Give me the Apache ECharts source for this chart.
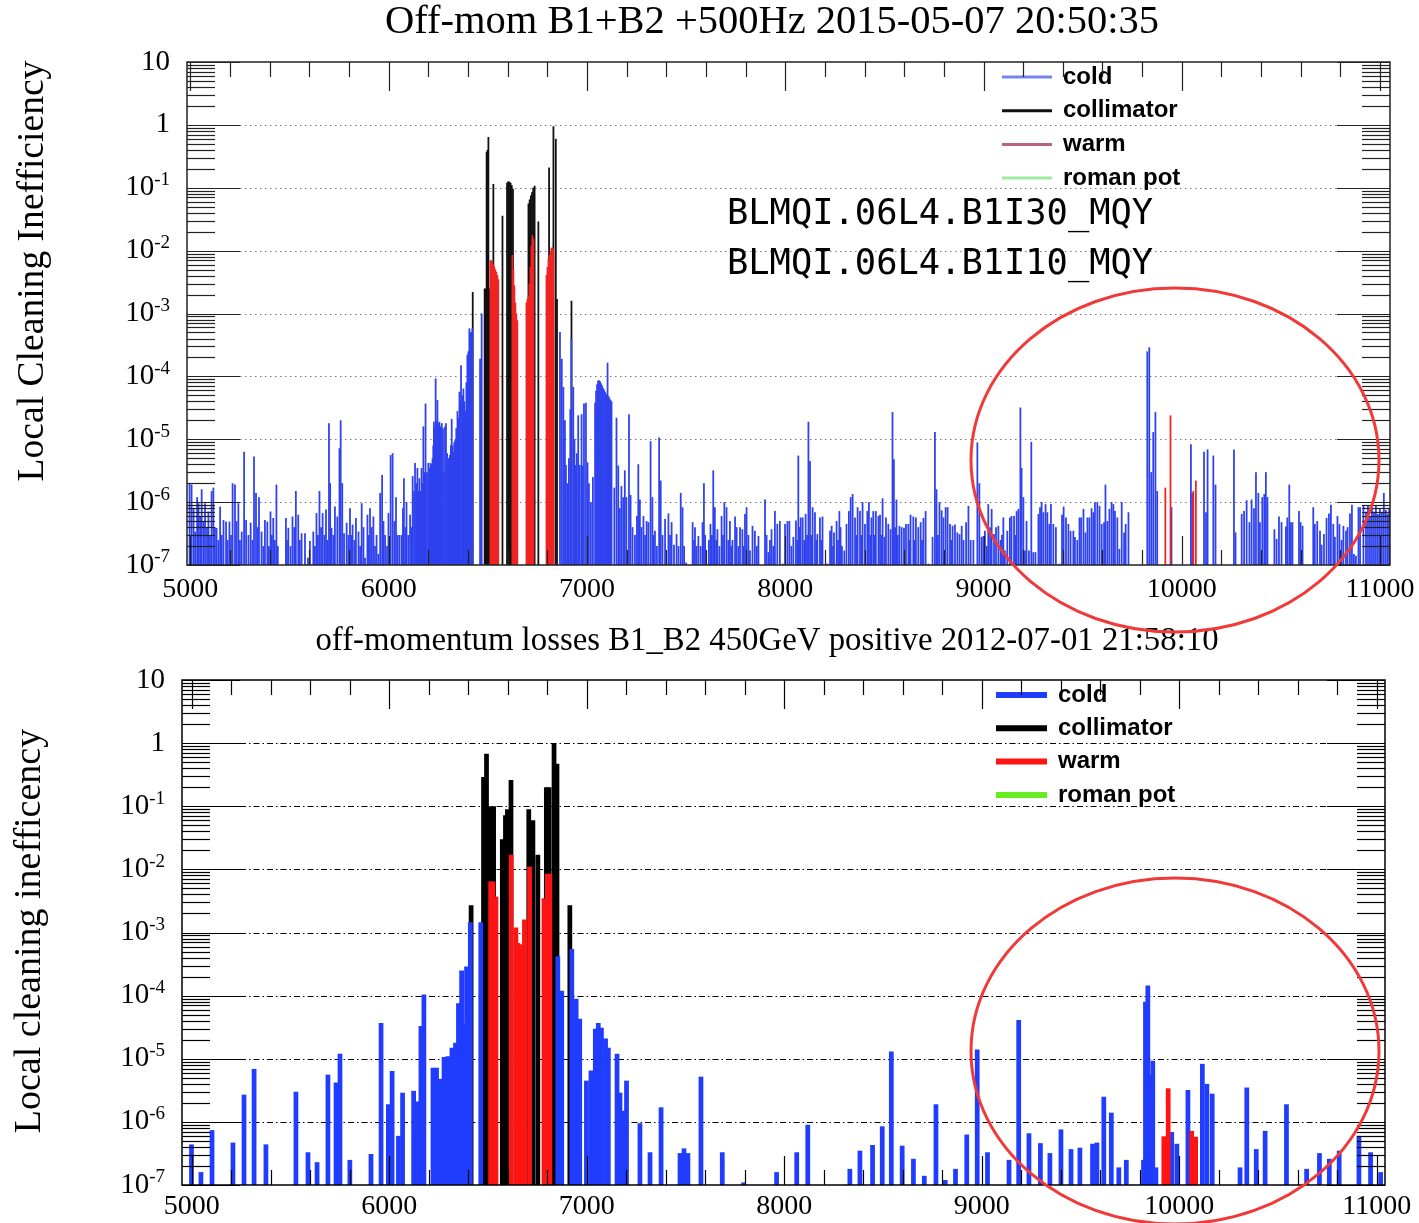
<!DOCTYPE html>
<html>
<head>
<meta charset="utf-8">
<script src="https://cdn.jsdelivr.net/npm/echarts/dist/echarts.min.js"></script>
<style>
  html, body { margin: 0; padding: 0; background: #fff; }
  #chart { width: 1419px; height: 1223px; }
</style>
</head>
<body>
<div id="chart"></div>
<script>
// ---------------- titles and labels ----------------
const titleTop = 'Off-mom B1+B2 +500Hz 2015-05-07 20:50:35';
const titleBottom = 'off-momentum losses B1_B2 450GeV positive 2012-07-01 21:58:10';
const yNameTop = 'Local Cleaning Inefficiency';
const yNameBottom = 'Local cleaning inefficency';
const monitorNames = ['BLMQI.06L4.B1I30_MQY', 'BLMQI.06L4.B1I10_MQY'];
const categories = ['cold', 'collimator', 'warm', 'roman pot'];
const xLabelValues = [5000, 6000, 7000, 8000, 9000, 10000, 11000];

// ---------------- 2015 loss map: [s (m), local inefficiency] ----------------
const topCold = [
[4996,2.0e-6],[5006,1.9e-6],[5016,8e-7],[5024,3.4e-7],[5034,1.2e-6],[5041,9.6e-7],[5049,6e-7],[5057,1.6e-6],[5066,5e-7],[5074,9.6e-7],[5084,4e-7],[5091,7.1e-7],[5099,3e-7],[5107,1.5e-6],[5116,1.7e-6],[5124,4e-7],[5132,3.9e-7],[5141,2.5e-7],[5150,8.5e-7],[5158,3e-7],[5167,5.2e-7],[5180,4.9e-7],[5188,2.5e-7],[5197,4.9e-7],[5205,3e-7],[5213,2.0e-6],[5225,1.9e-6],[5233,5e-7],[5242,9.6e-7],[5250,2.5e-7],[5259,3.4e-7],[5271,6.3e-6],[5281,5.2e-7],[5293,3.0e-7],[5304,4.7e-7],[5313,2.5e-7],[5321,5.3e-6],[5331,1.4e-6],[5339,4e-7],[5346,1.2e-6],[5359,3.4e-7],[5368,2e-7],[5376,5.2e-7],[5388,4.9e-7],[5396,2e-7],[5404,7.1e-7],[5411,3e-7],[5418,5.6e-7],[5426,2.5e-7],[5434,1.9e-6],[5441,2e-7],
[5482,5.6e-7],[5487,2.5e-7],[5494,3.9e-7],[5505,2e-7],[5515,5.9e-7],[5524,4e-7],[5532,1.5e-6],[5544,6.3e-7],[5552,2.5e-7],[5561,3.2e-7],[5578,3.2e-7],[5593,1.3e-7],[5603,2.4e-7],[5620,3.4e-7],[5628,2e-7],[5636,6.7e-7],[5643,3e-7],[5651,1.5e-6],[5659,4e-7],[5667,6.7e-7],[5676,3e-7],[5684,7.6e-7],[5691,2.5e-7],[5699,1.8e-5],[5705,2e-6],[5712,3.9e-7],[5721,3e-7],[5729,8.5e-7],[5741,5.9e-7],[5752,7.2e-6],[5758,2.0e-5],[5766,2e-6],[5775,3.2e-7],[5788,4.7e-7],[5797,3e-7],[5805,8e-7],[5812,3e-7],[5818,4.4e-7],[5827,2.5e-7],[5835,5.6e-7],[5848,3.4e-7],[5856,2e-7],[5864,9.6e-7],[5873,4e-7],[5881,1.3e-7],[5893,6.3e-7],[5900,3e-7],[5906,8e-7],[5915,4e-7],[5923,5.9e-7],[5931,2e-7],[5939,3.0e-7],[5948,1.5e-7],[5957,1.4e-6],[5967,2.7e-6],[5974,5e-7],[5982,3.0e-7],[5992,2e-7],[5999,6.7e-7],
[6010,5.6e-6],[6020,6e-6],[6029,5e-7],[6037,1.2e-6],[6045,3e-7],[6054,3.0e-7],[6065,3.0e-7],[6072,8e-7],[6077,2.4e-6],[6084,4e-7],[6090,1e-6],[6099,3e-7],[6108,6.3e-7],[6115,4e-7],[6121,2.6e-6],[6128,1.5e-6],[6133,4.2e-6],[6139,2e-6],[6145,3.5e-6],[6150,1.5e-6],[6155,2.4e-6],[6161,1.5e-6],[6166,3.5e-6],[6171,2e-6],[6175,1.6e-5],[6180,3e-6],[6186,3.7e-5],[6193,3e-6],[6200,4.2e-6],[6206,3.5e-6],[6211,4.2e-6],[6216,4e-6],[6221,5e-6],[6225,8e-6],[6228,1.9e-5],[6233,1.5e-5],[6237,9.3e-5],[6241,2e-5],[6246,4.2e-5],[6251,1.8e-5],[6256,1.9e-5],[6262,1.6e-5],[6268,1.8e-5],[6274,1.5e-5],[6279,3.1e-6],[6284,1.6e-5],[6289,1.8e-5],[6295,6e-6],[6301,5e-6],[6305,5e-6],[6309,5.6e-6],[6314,8e-6],[6318,2.1e-5],[6322,8e-6],[6326,6.3e-6],[6331,9e-6],[6336,1e-5],[6341,1.5e-5],[6347,2.8e-5],[6352,2.2e-5],[6357,5.7e-5],[6361,4e-5],[6365,1.5e-4],[6371,5e-5],[6377,6.4e-5],[6382,4e-5],[6387,2.8e-5],[6392,8e-5],[6397,2.2e-4],[6402,2.5e-4],[6407,5.8e-4],[6412,5e-4],[6417,5.1e-4],[6422,5.8e-4],
[6461,1.9e-4],[6469,1e-3],
[6864,5.1e-4],[6873,1.9e-4],[6881,6.8e-5],[6889,2e-5],[6894,3.9e-6],[6901,2e-6],[6909,5e-6],[6916,3e-5],[6922,4e-4],[6931,6.8e-5],[6937,1e-5],[6942,3.9e-6],[6949,6e-6],[6956,2.4e-5],[6964,3.9e-6],[6973,2.5e-5],[6978,3.8e-6],[6985,3.7e-5],[6995,3.8e-5],[7003,4.3e-6],[7010,2e-6],[7020,1e-6],[7030,2.5e-6],
[7041,3.8e-5],[7046,5.9e-5],[7051,7.5e-5],[7056,8.5e-5],[7061,8.7e-5],[7066,8.4e-5],[7071,7.8e-5],[7076,7.2e-5],[7081,6.6e-5],[7086,6.2e-5],[7091,5.7e-5],[7096,5.3e-5],[7101,5.1e-5],[7104,1.65e-4],[7109,4.9e-5],[7114,4.5e-5],[7119,4.2e-5],[7124,4e-5],
[7138,1.7e-6],[7149,2.2e-5],[7158,3.8e-6],[7166,8e-7],[7174,1.8e-6],[7183,1.2e-6],[7191,3.2e-6],[7199,1.2e-6],[7212,2.5e-5],[7220,1.3e-6],[7230,4e-7],[7242,3e-7],[7252,6e-7],[7259,4e-6],[7267,1.1e-6],[7275,4e-7],[7285,6e-7],[7293,3e-7],[7301,5e-7],[7310,4.8e-7],[7321,9.3e-6],[7330,1.2e-6],[7336,3e-7],[7343,3.5e-7],[7353,2e-7],[7364,1.07e-5],[7372,2.2e-6],[7381,3e-7],[7394,5.4e-7],[7411,6.6e-7],[7419,3e-7],[7427,4.8e-7],[7439,2.1e-7],[7452,3.1e-7],[7462,2e-7],[7473,1.4e-6],[7482,8.3e-7],[7490,2e-7],[7500,1.1e-7],
[7533,4.8e-7],[7540,2.5e-7],[7545,4e-7],[7553,2e-7],[7562,2.9e-7],[7573,2e-7],[7583,4.8e-7],[7590,2e-6],[7596,3e-7],[7615,2.5e-7],[7623,4.5e-7],[7630,3e-7],[7637,3.2e-6],[7645,8.3e-7],[7652,2.5e-7],[7658,3.7e-7],[7668,2e-7],[7679,6e-7],[7686,3e-7],[7693,1e-6],[7704,8.3e-7],[7713,2.5e-7],[7721,5e-7],[7728,2e-7],[7734,2.5e-7],[7747,5.9e-7],[7755,4e-7],[7764,2e-7],[7772,4e-7],[7784,3.7e-7],[7790,2e-7],[7797,6.5e-7],[7805,8.3e-7],[7814,3e-7],[7822,1.7e-7],[7835,4.2e-7],[7847,3.5e-7],[7857,2e-7],[7865,2.9e-7],[7898,1.1e-6],[7906,3e-7],[7915,1.6e-7],[7923,2.5e-7],[7931,3.7e-7],[7940,2e-7],[7948,7.2e-7],[7960,4.5e-7],[7973,5e-7],[7987,1.05e-7],[7999,4.5e-7],
[8011,5e-7],[8021,5e-7],[8031,2e-7],[8041,2.8e-7],[8054,5.1e-7],[8061,2.5e-7],[8066,5.5e-6],[8071,4e-7],[8078,5.7e-7],[8088,5.7e-7],[8096,2.5e-7],[8103,6.5e-7],[8110,3e-7],[8117,1.9e-5],[8125,4.5e-6],[8132,3e-7],[8138,8.3e-7],[8150,6.9e-7],[8157,2.5e-7],[8162,3.1e-7],[8175,5.7e-7],[8182,2.5e-7],[8188,5.9e-7],[8213,1.05e-7],[8226,3.5e-7],[8234,4.2e-7],[8241,2e-7],[8246,3.3e-7],[8259,5e-7],[8266,2.5e-7],[8273,7.2e-7],[8279,4e-7],[8286,2e-7],[8298,1.7e-7],[8309,4.5e-7],[8321,7.2e-7],[8330,1.2e-6],[8340,1.35e-6],[8352,5.7e-7],[8359,3e-7],[8365,8.3e-7],[8377,7.2e-7],[8384,3e-7],[8390,1e-6],[8402,4.5e-7],[8414,7.2e-7],[8422,1e-6],[8429,3e-7],[8435,5.7e-7],[8444,7.2e-7],[8450,3e-7],[8457,7.2e-7],[8470,6e-7],[8478,6.3e-7],[8485,3e-7],[8491,1.15e-6],[8500,2.8e-7],[8508,5.7e-7],[8520,4.5e-7],[8531,3.7e-7],[8541,2.7e-5],[8548,4.8e-6],[8554,4e-7],[8561,1.1e-6],[8568,3e-7],[8576,4.2e-7],[8587,4e-7],[8599,3.9e-7],
[8609,4.5e-7],[8621,4.5e-7],[8627,2.5e-7],[8632,6.3e-7],[8646,5.9e-7],[8652,2.5e-7],[8659,5.7e-7],[8671,4e-7],[8683,4.8e-7],[8690,2.5e-7],[8697,5.6e-7],[8708,7.2e-7],[8722,1.05e-7],[8743,2.8e-7],[8755,1.3e-5],[8763,1.6e-6],[8770,3e-7],[8778,1e-6],[8789,7.4e-7],[8798,5.7e-7],[8809,8.3e-7],[8819,8.3e-7],[8831,4.5e-7],[8838,2.5e-7],[8844,4.2e-7],[8856,4.4e-7],[8868,3.3e-7],[8879,3.1e-7],[8890,4.2e-7],[8899,2.5e-7],[8912,4.8e-7],[8924,8.7e-7],[8935,2.5e-7],[8949,2.5e-7],[8969,8.9e-6],[8979,2e-6],[8990,2.8e-7],[8999,2.9e-7],
[9007,3.5e-7],[9017,2e-7],[9024,9.3e-7],[9033,4e-7],[9041,7.8e-7],[9053,3.1e-7],[9063,4e-7],[9075,4.2e-7],[9086,2.5e-7],[9093,3e-7],[9100,5.7e-7],[9108,1.7e-7],[9120,3.5e-7],[9133,5.7e-7],[9141,6e-7],[9154,6e-7],[9161,3e-7],[9167,7.2e-7],[9176,7.8e-7],[9186,3.2e-5],[9192,3.5e-6],[9201,1.2e-6],[9209,1.7e-7],[9217,5e-7],[9229,1.7e-7],[9241,9.1e-6],[9251,1.6e-7],[9262,1.6e-7],[9277,6.5e-7],[9285,8.3e-7],[9293,1e-6],[9302,6.9e-7],[9313,9.3e-7],[9322,6.9e-7],[9332,4.5e-7],[9340,9.3e-7],[9352,4.5e-7],[9365,4e-7],[9383,1.05e-7],[9396,6.3e-7],[9404,8.5e-7],[9416,5.7e-7],[9428,4.5e-7],[9439,3.5e-7],[9453,3.5e-7],[9461,2.8e-7],[9473,2.5e-7],[9484,5.7e-7],[9492,5.7e-7],[9504,7.8e-7],[9514,3.3e-7],[9524,5.7e-7],[9534,5.7e-7],[9545,8e-7],[9554,6.9e-7],[9562,1e-6],[9574,1e-6],[9585,8.7e-7],[9596,4.5e-7],[9608,4.8e-7],[9615,1.9e-6],[9625,5e-7],[9635,7.8e-7],[9646,1e-6],[9655,9.3e-7],[9663,7.2e-7],[9675,5.7e-7],[9685,1.8e-7],[9697,1e-6],[9709,3.3e-7],[9717,4.5e-7],[9731,6.9e-7],
[9826,2.5e-4],[9836,2.9e-4],[9846,3e-6],[9856,1.3e-5],[9867,2.7e-5],[9876,1.5e-6],[9948,8.3e-7],[10046,8.3e-6],[10053,1.4e-6],[10112,6.3e-6],[10122,6.9e-7],[10130,6.9e-6],[10159,5.5e-6],[10170,1.9e-6],[10263,6.9e-6],[10271,3.3e-7],
[10302,6.5e-7],[10314,7.2e-7],[10327,1.07e-6],[10341,4.8e-7],[10352,1.1e-6],[10364,8e-7],[10374,3e-6],[10386,1.4e-6],[10394,4.8e-7],[10406,1.2e-6],[10416,1.35e-6],[10424,3e-6],[10432,1.2e-6],[10467,3.7e-7],[10478,2.6e-7],[10490,5.9e-7],[10503,4.8e-7],[10525,4.1e-7],[10532,5.7e-7],[10542,1.9e-6],[10550,4.8e-7],[10558,4.8e-7],[10591,7.2e-7],[10599,4.8e-7],[10609,4.2e-7],
[10663,8.3e-7],[10671,4.5e-7],[10683,5e-7],[10697,3.5e-7],[10705,2.1e-7],[10717,3.1e-7],[10730,5.6e-7],[10742,6.6e-7],[10752,9.1e-7],[10764,4.5e-7],[10772,2.8e-7],[10785,6e-7],[10795,4.5e-7],[10806,2.5e-7],[10815,4.2e-7],[10828,3.5e-7],[10836,4e-7],[10848,6.6e-7],[10858,9.1e-7],[10868,1.5e-7],[10878,1.4e-7],[10891,8.3e-7],[10899,8.3e-7],[10916,8.7e-7],[10929,7e-7],[10939,9e-7],[10949,6e-7],[10959,8e-7],[10969,7e-7],[10979,9e-7],[10989,6.5e-7],[10999,8e-7],[11009,7e-7],[11019,1.4e-6],[11029,7.5e-7],[11039,6.5e-7],[11046,8e-7]
];
const topCollimator = [
[6424,2.2e-3],[6484,2.5e-3],[6489,2.5e-3],[6494,0.37],[6498,0.4],[6503,0.64],[6508,2.5e-3],[6528,0.115],[6574,0.036],
[6597,0.12],[6603,0.127],[6609,0.125],[6615,0.12],[6621,0.11],[6627,0.096],
[6705,0.056],[6711,0.065],[6717,0.075],[6723,0.085],[6729,0.1],[6736,0.108],[6755,0.029],
[6809,0.21],[6831,0.95],[6843,0.6],[6849,1.7e-3],[6922,1.6e-3]
];
const topWarm = [
[6513,7e-3],[6518,7e-3],[6523,6.6e-3],[6528,6e-3],[6533,5.6e-3],[6538,5e-3],[6543,4.6e-3],[6548,4.1e-3],[6553,3.5e-3],
[6624,8.5e-3],[6629,5e-3],[6634,2.8e-3],[6639,1.5e-3],[6644,1e-3],[6649,7.8e-4],
[6695,1.5e-3],[6700,1.7e-3],[6705,1.9e-3],[6710,3e-3],[6715,5.5e-3],[6720,1.2e-2],[6725,1.75e-2],[6730,1.55e-2],
[6796,4.1e-3],[6801,5.5e-3],[6806,7.5e-3],[6811,8.5e-3],[6816,9.5e-3],[6821,1.1e-2],[6826,1.14e-2],[6831,1.05e-2],
[9917,1.7e-6],[9943,2.4e-5],[10058,1.5e-6],[10071,2.2e-6]
];
const topRomanPot = [];

// ---------------- 2012 loss map ----------------
const bottomCold = [
[4998,4.4e-7],[5046,1.6e-7],[5102,7.4e-7],[5208,4.7e-7],[5264,2.7e-6],[5315,6.9e-6],[5375,4.4e-7],[5527,3e-6],[5588,3.3e-7],[5634,2.3e-7],[5689,5.6e-6],[5730,4.2e-6],[5750,1.2e-5],[5800,2.5e-7],[5907,3.1e-7],[5958,3.7e-5],[5995,1.9e-6],[6014,6.4e-6],[6046,6e-7],[6067,2.9e-6],[6123,3.1e-6],[6145,2.1e-6],[6160,3.3e-5],[6175,1.04e-4],
[6221,7.2e-6],[6239,7.2e-6],[6256,4.8e-6],[6277,1.07e-5],[6297,1.1e-5],[6317,1.5e-5],[6335,1.8e-5],[6350,7.6e-5],[6366,2.5e-4],[6381,3.6e-5],[6391,2.9e-4],[6410,1.45e-3],[6463,1.45e-3],
[6853,4.2e-4],[6873,1.2e-4],[6924,5.5e-4],[6946,8.9e-5],[6964,4.3e-5],[6998,4.5e-6],[7021,6.5e-6],[7043,3e-5],[7058,3.7e-5],[7074,3.1e-5],[7095,2.1e-5],[7109,1.5e-5],[7153,1.2e-5],[7168,2.9e-6],[7185,1.5e-6],[7201,4.5e-6],[7269,9.5e-7],[7320,3.3e-7],[7376,1.7e-6],[7472,3.2e-7],[7492,3.8e-7],[7512,3.2e-7],[7578,5.2e-6],[7686,3.3e-7],[7794,1.1e-7],[7961,1.6e-7],
[8063,3.3e-7],[8119,9e-7],[8332,1.8e-7],[8383,3.5e-7],[8447,4.3e-7],[8496,8.5e-7],[8542,1.3e-5],[8597,4.2e-7],[8654,2.6e-7],[8709,1.4e-7],[8768,1.9e-6],[8815,1.2e-7],[8867,1.8e-7],[8924,6.3e-7],[8977,1.4e-5],
[9029,3.3e-7],[9138,2.5e-7],[9187,4.1e-5],[9239,6.6e-7],[9297,4.6e-7],[9345,3.2e-7],[9401,7.6e-7],[9452,3.7e-7],[9497,3.9e-7],[9561,4.5e-7],[9583,4.7e-7],[9618,2.5e-6],[9656,1.4e-6],[9694,1.9e-7],[9732,2.5e-7],
[9819,2.5e-7],[9829,8e-5],[9841,1.45e-4],[9854,5.6e-6],[9866,9.3e-6],[9882,1.9e-7],[9962,6.9e-7],[9988,4.5e-7],[10044,3.2e-6],[10117,8.3e-6],[10140,4e-6],[10167,2.8e-6],
[10308,1.9e-7],[10342,3.5e-6],[10390,3.7e-7],[10435,7.2e-7],[10543,1.9e-6],[10645,1.8e-7],[10710,3.2e-7],[10760,2.6e-7],[10810,3.5e-7],[10910,6e-7],[10969,3.3e-7],[11020,1.6e-7]
];
const bottomCollimator = [
[6414,2.7e-3],[6477,0.29],[6492,0.68],[6512,0.1],[6528,0.1],[6572,0.03],[6588,0.072],[6598,0.09],[6616,0.26],
[6706,0.09],[6727,0.06],[6752,0.017],[6795,0.2],[6809,0.2],[6834,1.0],[6849,0.47],[6914,2.7e-3]
];
const bottomWarm = [
[6513,6.4e-3],[6525,6.4e-3],[6540,3.7e-3],[6617,0.017],[6641,1.2e-3],[6651,6.8e-4],[6663,5.5e-4],[6674,6.5e-4],[6684,1.6e-3],[6710,0.011],
[6783,3.5e-3],[6800,8.5e-3],[6813,8.5e-3],
[9922,5.9e-7],[9944,3.4e-6],[10063,7.2e-7],[10083,5.8e-7]
];
const bottomRomanPot = [];

// ---------------- axes ----------------
const Y_MIN = 1e-7, Y_MAX = 10;
const X_TICK_FIRST = 5000, X_TICK_LAST = 11000, X_TICK_STEP = 200, X_MAJOR_STEP = 1000;

const SERIF = "'Liberation Serif', 'Times New Roman', serif";
const SANS = "'Liberation Sans', Arial, Helvetica, sans-serif";
const MONO = "'DejaVu Sans Mono', monospace";

// decade and 2..9 sub-decade positions of the logarithmic axis
const yTicks = [];
for (let e = Math.round(Math.log10(Y_MIN)); e < Math.round(Math.log10(Y_MAX)); e++) {
  for (let m = 1; m <= 9; m++) yTicks.push({ v: m * Math.pow(10, e), major: m === 1 });
}
yTicks.push({ v: Y_MAX, major: true });
const xTicks = [];
for (let x = X_TICK_FIRST; x <= X_TICK_LAST; x += X_TICK_STEP) xTicks.push({ v: x, major: x % X_MAJOR_STEP === 0 });

function barRenderer(binWidth) {
  return function (params, api) {
    const x = api.value(0), v = api.value(1);
    const l = api.coord([x - binWidth / 2, v]);
    const r = api.coord([x + binWidth / 2, v]);
    const base = api.coord([x, Y_MIN]);
    return {
      type: 'rect',
      shape: { x: l[0], y: l[1], width: Math.max(r[0] - l[0], 1), height: base[1] - l[1] },
      style: { fill: api.visual('color') }
    };
  };
}

function gridLineRenderer(cfg) {
  return function (params, api) {
    const cs = params.coordSys;
    const kids = [];
    yTicks.forEach(function (t) {
      if (!t.major || t.v <= Y_MIN * 1.0001 || t.v >= Y_MAX * 0.9999) return;
      const y = Math.round(api.coord([X_TICK_FIRST, t.v])[1]) + 0.5;
      kids.push({ type: 'line', shape: { x1: cs.x + cfg.majorY, y1: y, x2: cs.x + cs.width - cfg.majorY, y2: y },
        style: { stroke: cfg.gridColor, lineWidth: cfg.gridWidth, lineDash: cfg.gridDash } });
    });
    return { type: 'group', children: kids };
  };
}

function frameRenderer(cfg) {
  return function (params, api) {
    const cs = params.coordSys;
    const x0 = cs.x, x1 = cs.x + cs.width, y0 = cs.y, y1 = cs.y + cs.height;
    const st = { stroke: cfg.tickColor, lineWidth: cfg.tickWidth };
    const kids = [];
    const seg = function (a, b, c, d) { kids.push({ type: 'line', shape: { x1: a, y1: b, x2: c, y2: d }, style: st }); };
    yTicks.forEach(function (t) {
      const y = Math.round(api.coord([X_TICK_FIRST, t.v])[1]) + 0.5;
      const len = t.major ? cfg.majorY : cfg.minorY;
      seg(x0, y, x0 + len, y);
      seg(x1 - len, y, x1, y);
    });
    xTicks.forEach(function (t) {
      const x = Math.round(api.coord([t.v, Y_MIN])[0]) + 0.5;
      const len = t.major ? cfg.majorX : cfg.minorX;
      seg(x, y1, x, y1 - len);
      seg(x, y0, x, y0 + len);
    });
    kids.push({ type: 'rect', shape: { x: x0, y: y0, width: x1 - x0, height: y1 - y0 },
      style: { fill: 'none', stroke: cfg.tickColor, lineWidth: cfg.frameWidth } });
    return { type: 'group', children: kids };
  };
}

function yLabelFormatter(v) {
  const e = Math.round(Math.log10(v));
  if (e === 1) return '{b|10}';
  if (e === 0) return '{b|1}';
  return '{b|10}{s|' + e + '}';
}
const yRich = {
  b: { fontSize: 29, fontFamily: SERIF, color: '#000', lineHeight: 34 },
  s: { fontSize: 19, fontFamily: SERIF, color: '#000', lineHeight: 34, verticalAlign: 'top' }
};

function xAxisCfg(gridIndex, min, max, margin) {
  return {
    type: 'value', gridIndex: gridIndex, min: min, max: max,
    axisLine: { show: false }, axisTick: { show: false }, splitLine: { show: false },
    axisLabel: { customValues: xLabelValues, formatter: function (v) { return String(Math.round(v)); },
      margin: margin, fontSize: 28, fontFamily: SERIF, color: '#000', showMinLabel: true, showMaxLabel: true }
  };
}
function yAxisCfg(gridIndex) {
  return {
    type: 'log', logBase: 10, gridIndex: gridIndex, min: Y_MIN, max: Y_MAX, splitNumber: 8,
    axisLine: { show: false }, axisTick: { show: false }, splitLine: { show: false },
    axisLabel: { formatter: yLabelFormatter, rich: yRich, margin: 17, showMinLabel: true, showMaxLabel: true }
  };
}

function bars(name, data, gi, binWidth, color, z) {
  return { type: 'custom', name: name, data: data, xAxisIndex: gi, yAxisIndex: gi, encode: { x: 0, y: 1 },
    renderItem: barRenderer(binWidth), itemStyle: { color: color }, z: z, clip: true, silent: true };
}
function decor(gi, renderer, z) {
  return { type: 'custom', data: [[X_TICK_FIRST, 1]], xAxisIndex: gi, yAxisIndex: gi, encode: { x: 0, y: 1 },
    renderItem: renderer, z: z, silent: true, clip: false };
}

const topStyle = { majorY: 53, minorY: 28, majorX: 29, minorX: 15, tickColor: '#222', tickWidth: 1.2, frameWidth: 1.5,
  gridColor: '#7a7a7a', gridWidth: 1.2, gridDash: [1.5, 3.5] };
const bottomStyle = { majorY: 58, minorY: 28, majorX: 29, minorX: 15, tickColor: '#000', tickWidth: 1.2, frameWidth: 1.5,
  gridColor: '#000', gridWidth: 1, gridDash: [6, 3, 1.5, 3] };

const legendText = { fontFamily: SANS, fontWeight: 'bold', fontSize: 24, lineHeight: 26, color: '#000', padding: [0, 0, 0, 6] };

const option = {
  animation: false,
  backgroundColor: '#fff',
  grid: [
    { left: 187, top: 62, width: 1203, height: 503, containLabel: false, outerBoundsMode: 'none' },
    { left: 182, top: 680, width: 1203, height: 505, containLabel: false, outerBoundsMode: 'none' }
  ],
  xAxis: [xAxisCfg(0, 4983, 11050, 11), xAxisCfg(1, 4950, 11042, 8)],
  yAxis: [yAxisCfg(0), yAxisCfg(1)],
  legend: [
    { orient: 'vertical', left: 1002, top: 64, padding: 0, itemWidth: 50, itemHeight: 3, itemGap: 7.7, icon: 'rect', selectedMode: false,
      textStyle: legendText,
      data: [
        { name: categories[0], itemStyle: { color: '#7585ef' } },
        { name: categories[1], itemStyle: { color: '#111' } },
        { name: categories[2], itemStyle: { color: '#b5637f' } },
        { name: categories[3], itemStyle: { color: '#a0eaa0' } }
      ] },
    { orient: 'vertical', left: 996, top: 682, padding: 0, itemWidth: 51, itemHeight: 6, itemGap: 7.3, icon: 'rect', selectedMode: false,
      textStyle: legendText,
      data: [
        { name: categories[0], itemStyle: { color: '#1f3cff' } },
        { name: categories[1], itemStyle: { color: '#000' } },
        { name: categories[2], itemStyle: { color: '#ff1414' } },
        { name: categories[3], itemStyle: { color: '#66ee22' } }
      ] }
  ],
  series: [
    decor(0, gridLineRenderer(topStyle), 1),
    bars(categories[1], topCollimator, 0, 9, '#111', 2),
    bars(categories[0], topCold, 0, 9, '#2f42ee', 3),
    bars(categories[2], topWarm, 0, 9, '#f02424', 4),
    bars(categories[3], topRomanPot, 0, 9, '#a0eaa0', 4),
    decor(0, frameRenderer(topStyle), 6),

    decor(1, gridLineRenderer(bottomStyle), 1),
    bars(categories[1], bottomCollimator, 1, 24, '#000', 2),
    bars(categories[0], bottomCold, 1, 24, '#1f3cff', 3),
    bars(categories[2], bottomWarm, 1, 24, '#ff1414', 4),
    bars(categories[3], bottomRomanPot, 1, 24, '#66ee22', 4),
    decor(1, frameRenderer(bottomStyle), 6)
  ],
  graphic: [
    { type: 'text', x: 772, y: 22, z: 50, style: { text: titleTop, font: '40.5px ' + SERIF, fill: '#000', textAlign: 'center', textVerticalAlign: 'middle', align: 'center', verticalAlign: 'middle' } },
    { type: 'text', x: 767, y: 641, z: 50, style: { text: titleBottom, font: '32.8px ' + SERIF, fill: '#000', textAlign: 'center', textVerticalAlign: 'middle', align: 'center', verticalAlign: 'middle' } },
    { type: 'text', x: 33, y: 271, rotation: Math.PI / 2, z: 50, style: { text: yNameTop, font: '37.6px ' + SERIF, fill: '#000', textAlign: 'center', textVerticalAlign: 'middle', align: 'center', verticalAlign: 'middle' } },
    { type: 'text', x: 30, y: 931, rotation: Math.PI / 2, z: 50, style: { text: yNameBottom, font: '38px ' + SERIF, fill: '#000', textAlign: 'center', textVerticalAlign: 'middle', align: 'center', verticalAlign: 'middle' } },
    { type: 'text', x: 727, y: 215, z: 50, style: { text: monitorNames[0], font: '35.4px ' + MONO, fill: '#000', textAlign: 'left', textVerticalAlign: 'middle', align: 'left', verticalAlign: 'middle' } },
    { type: 'text', x: 727, y: 265, z: 50, style: { text: monitorNames[1], font: '35.4px ' + MONO, fill: '#000', textAlign: 'left', textVerticalAlign: 'middle', align: 'left', verticalAlign: 'middle' } },
    { type: 'ellipse', z: 100, shape: { cx: 1175, cy: 460, rx: 204, ry: 172 }, style: { fill: 'none', stroke: '#f03a3a', lineWidth: 3 } },
    { type: 'ellipse', z: 100, shape: { cx: 1175, cy: 1051, rx: 204, ry: 173 }, style: { fill: 'none', stroke: '#f03a3a', lineWidth: 3 } }
  ]
};

const chart = echarts.init(document.getElementById('chart'), null, { renderer: 'canvas' });
chart.setOption(option);
</script>
</body>
</html>
